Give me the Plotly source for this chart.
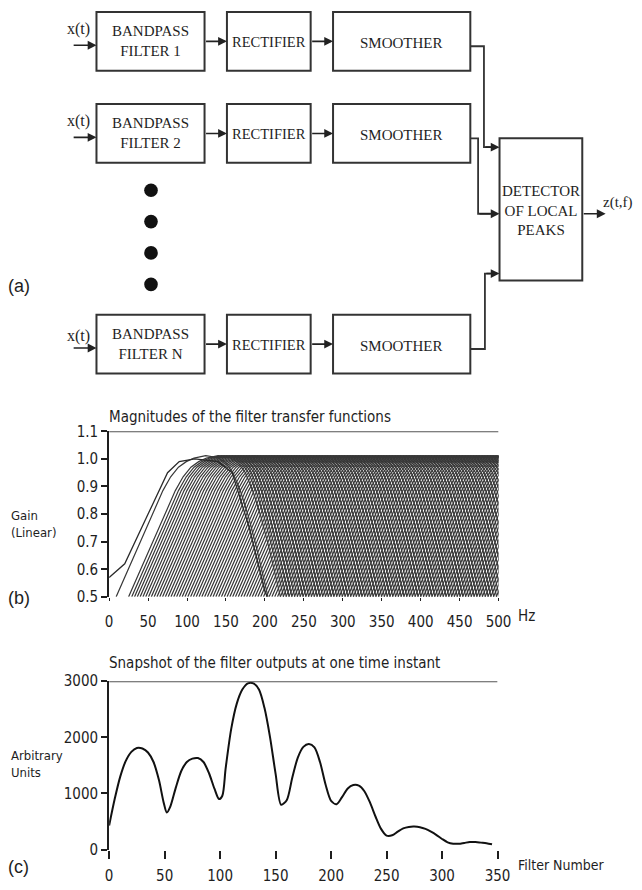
import numpy as np
import plotly.graph_objects as go

# ---------------- data ----------------
# (b) filter bank: first (lowest) filter read directly
first_filter_hz = [0, 20, 50, 75, 90, 110, 140, 158, 180, 200, 203]
first_filter_gain = [0.57, 0.62, 0.80, 0.95, 0.99, 1.0, 0.99, 0.95, 0.75, 0.52, 0.50]
# template response shape of one filter, offset from its lower 0.5-gain edge
template_offset_hz = [0, 10, 20, 30, 40, 50, 60, 70, 80, 90, 100, 115, 130, 140, 150, 160, 170, 180, 190, 195]
template_gain = [0.5, 0.565, 0.63, 0.695, 0.76, 0.825, 0.885, 0.935, 0.97, 0.99, 1.003, 1.012, 1.005, 0.988,
                 0.95, 0.88, 0.79, 0.68, 0.56, 0.5]
# lower 0.5-gain edges of the remaining filters (Hz)
filter_lower_edges_hz = [9, 25] + [round(float(v), 1) for v in np.arange(29, 500, 3.6)]

b_xticks = [0, 50, 100, 150, 200, 250, 300, 350, 400, 450, 500]
b_yticks = [0.5, 0.6, 0.7, 0.8, 0.9, 1.0, 1.1]
b_yticktext = ["0.5", "0.6", "0.7", "0.8", "0.9", "1.0", "1.1"]

# (c) snapshot of filter outputs
snapshot_filter = [0, 5, 10, 15, 20, 25, 30, 35, 40, 45, 49, 52, 55, 60, 65, 70, 75, 80, 85, 90, 95, 99,
                   102, 105, 110, 115, 120, 125, 130, 135, 140, 145, 150, 155, 160, 165, 170, 175, 180,
                   185, 190, 195, 200, 205, 210, 215, 220, 225, 230, 235, 240, 245, 250, 255, 260, 265,
                   270, 275, 280, 285, 290, 295, 300, 305, 310, 315, 320, 325, 330, 335, 340, 345]
snapshot_value = [430, 900, 1300, 1580, 1740, 1810, 1800, 1730, 1560, 1230, 850, 660, 760, 1100, 1400, 1560,
                  1620, 1630, 1560, 1360, 1080, 900, 960, 1450, 2150, 2600, 2850, 2960, 2960, 2850, 2520,
                  2000, 1350, 800, 880, 1280, 1640, 1830, 1880, 1820, 1560, 1160, 870, 810, 940, 1090, 1150,
                  1140, 1040, 840, 590, 370, 250, 255, 320, 380, 405, 410, 400, 370, 320, 260, 190, 130,
                  105, 105, 120, 135, 135, 125, 115, 95]
c_xticks = [0, 50, 100, 150, 200, 250, 300, 350]
c_yticks = [0, 1000, 2000, 3000]

# ---------------- figure ----------------
W, H = 642, 890
NARROW = "Liberation Sans Narrow, DejaVu Sans Condensed, Arial Narrow, Liberation Sans, sans-serif"
SERIF = "Liberation Serif, Times New Roman, serif"
SANS = "Liberation Sans, Arial, sans-serif"
INK = "#1e1e1e"

fig = go.Figure()

# filter bank curves (one trace, None separated)
bx, by = [], []
for L in filter_lower_edges_hz:
    bx += [L + o for o in template_offset_hz] + [None]
    by += template_gain + [None]
fig.add_trace(go.Scatter(x=bx, y=by, mode="lines", line=dict(color="#383838", width=1.2),
                         xaxis="x", yaxis="y", hoverinfo="skip", showlegend=False))
fig.add_trace(go.Scatter(x=first_filter_hz, y=first_filter_gain, mode="lines",
                         line=dict(color="#2a2a2a", width=1.3), xaxis="x", yaxis="y",
                         hoverinfo="skip", showlegend=False))

# snapshot curve
fig.add_trace(go.Scatter(x=snapshot_filter, y=snapshot_value, mode="lines",
                         line=dict(color="#111", width=2, shape="spline", smoothing=0.8),
                         xaxis="x2", yaxis="y2", hoverinfo="skip", showlegend=False))

# dummy trace for the full-page pixel axes
fig.add_trace(go.Scatter(x=[None], y=[None], xaxis="x3", yaxis="y3", showlegend=False))


def px(x):
    return x / W


def py(y):
    return 1 - y / H


tick_font = dict(family=NARROW, size=15, color=INK)

fig.update_layout(
    width=W, height=H, margin=dict(l=0, r=0, t=0, b=0),
    paper_bgcolor="white", plot_bgcolor="rgba(0,0,0,0)", showlegend=False,
    xaxis=dict(domain=[px(108), px(508)], anchor="y", range=[0, 500], tickvals=b_xticks,
               ticks="outside", ticklen=3, tickcolor=INK, showline=False, showgrid=False,
               zeroline=False, tickfont=tick_font, ticklabelstandoff=8),
    yaxis=dict(domain=[py(600), py(431)], anchor="x", range=[0.5, 1.1], tickvals=b_yticks,
               ticktext=b_yticktext, ticks="outside", ticklen=6, tickcolor=INK, tickwidth=1.5,
               showline=True, linecolor=INK, linewidth=2, showgrid=False, zeroline=False,
               tickfont=tick_font, ticklabelstandoff=0),
    xaxis2=dict(domain=[px(108), px(507)], anchor="y2", range=[0, 350], tickvals=c_xticks,
                ticks="outside", ticklen=8, tickcolor=INK, tickwidth=1.5, showline=False,
                showgrid=False, zeroline=False, tickfont=tick_font, ticklabelstandoff=4),
    yaxis2=dict(domain=[py(858), py(686)], anchor="x2", range=[0, 3000], tickvals=c_yticks,
                ticks="outside", ticklen=6, tickcolor=INK, tickwidth=1.5, showline=True,
                linecolor=INK, linewidth=2, showgrid=False, zeroline=False, tickfont=tick_font,
                ticklabelstandoff=0),
    xaxis3=dict(domain=[0, 1], anchor="y3", range=[0, W], visible=False, fixedrange=True),
    yaxis3=dict(domain=[0, 1], anchor="x3", range=[H, 0], visible=False, fixedrange=True),
)

shapes = []
annotations = []

# top frame lines of plots (b) and (c)
shapes.append(dict(type="line", xref="x", yref="y", x0=0, x1=500, y0=1.1, y1=1.1,
                   line=dict(color="#555", width=2)))
shapes.append(dict(type="line", xref="x2", yref="y2", x0=0, x1=350, y0=3000, y1=3000,
                   line=dict(color="#555", width=2)))


def box(x0, y0, x1, y1):
    shapes.append(dict(type="rect", xref="x3", yref="y3", x0=x0, y0=y0, x1=x1, y1=y1,
                       line=dict(color="#333", width=2), fillcolor="rgba(0,0,0,0)"))


def label(x, y, text, size=15, family=SERIF, xanchor="center", color=INK, align="center"):
    annotations.append(dict(x=x, y=y, xref="x3", yref="y3", text=text, showarrow=False,
                            xanchor=xanchor, yanchor="middle", align=align, borderpad=0,
                            font=dict(family=family, size=size, color=color)))


def arrow(tx, ty, hx, hy):
    annotations.append(dict(x=hx, y=hy, ax=tx, ay=ty, xref="x3", yref="y3", axref="x3", ayref="y3",
                            text="", showarrow=True, arrowhead=2, arrowsize=1.1, arrowwidth=1.6,
                            arrowcolor="#222", standoff=0, startstandoff=0))


def path(points):
    d = "M " + " L ".join(f"{x} {y}" for x, y in points)
    shapes.append(dict(type="path", xref="x3", yref="y3", path=d,
                       line=dict(color="#333", width=1.8)))


rows = [(3, 63, "1"), (97, 157, "2"), (312, 372, "N")]
for (y0, y1, n) in rows:
    yc = (y0 + y1) / 2
    box(95, y0, 206, y1)
    box(229, y0, 315, y1)
    box(338, y0, 479, y1)
    label(150.5, yc, f"BANDPASS<br>FILTER {n}")
    label(272, yc + 1, "RECTIFIER", size=14.5)
    label(408, yc + 2, "SMOOTHER")
    arrow(70, yc + 4, 95, yc + 4)
    label(77, y0 + 17 if n != "N" else y0 + 22, "x(t)", size=16)
    arrow(206, yc, 229, yc)
    arrow(315, yc, 338, yc)

# dots
for yd in [185, 217, 249, 281]:
    shapes.append(dict(type="circle", xref="x3", yref="y3", x0=144, x1=158, y0=yd - 7, y1=yd + 7,
                       fillcolor="#111", line=dict(color="#111", width=0)))

# detector
box(509, 132, 594, 277)
label(551.5, 206, "DETECTOR<br>OF LOCAL<br>PEAKS")
path([(479, 38), (493, 38), (493, 141), (500, 141)])
arrow(493, 141, 509, 141)
path([(479, 132), (487, 132), (487, 209), (500, 209)])
arrow(487, 209, 509, 209)
path([(479, 347), (494, 347), (494, 270), (500, 270)])
arrow(494, 270, 509, 270)
arrow(594, 209, 618, 209)
label(614, 197, "z(t,f)", size=15, xanchor="left")

# panel labels
label(3, 283, "(a)", size=18, family=SANS, xanchor="left")
label(3, 601, "(b)", size=18, family=SANS, xanchor="left")
label(3, 876, "(c)", size=18, family=SANS, xanchor="left")

# plot texts
label(107, 416, "Magnitudes of the filter transfer functions", size=15, family=NARROW, xanchor="left")
label(107, 668, "Snapshot of the filter outputs at one time instant", size=15, family=NARROW,
      xanchor="left")
label(6, 526, "Gain<br>(Linear)", size=13, family=NARROW, xanchor="left", align="left")
label(6, 771, "Arbitrary<br>Units", size=13, family=NARROW, xanchor="left", align="left")
label(527, 620, "Hz", size=15, family=NARROW, xanchor="left")
label(527, 874, "Filter Number", size=14, family=NARROW, xanchor="left")

fig.update_layout(shapes=shapes, annotations=annotations)

fig.write_html("out.html", config={"displayModeBar": False},
               post_script="document.body.style.margin='0';document.body.style.overflow='hidden';")
